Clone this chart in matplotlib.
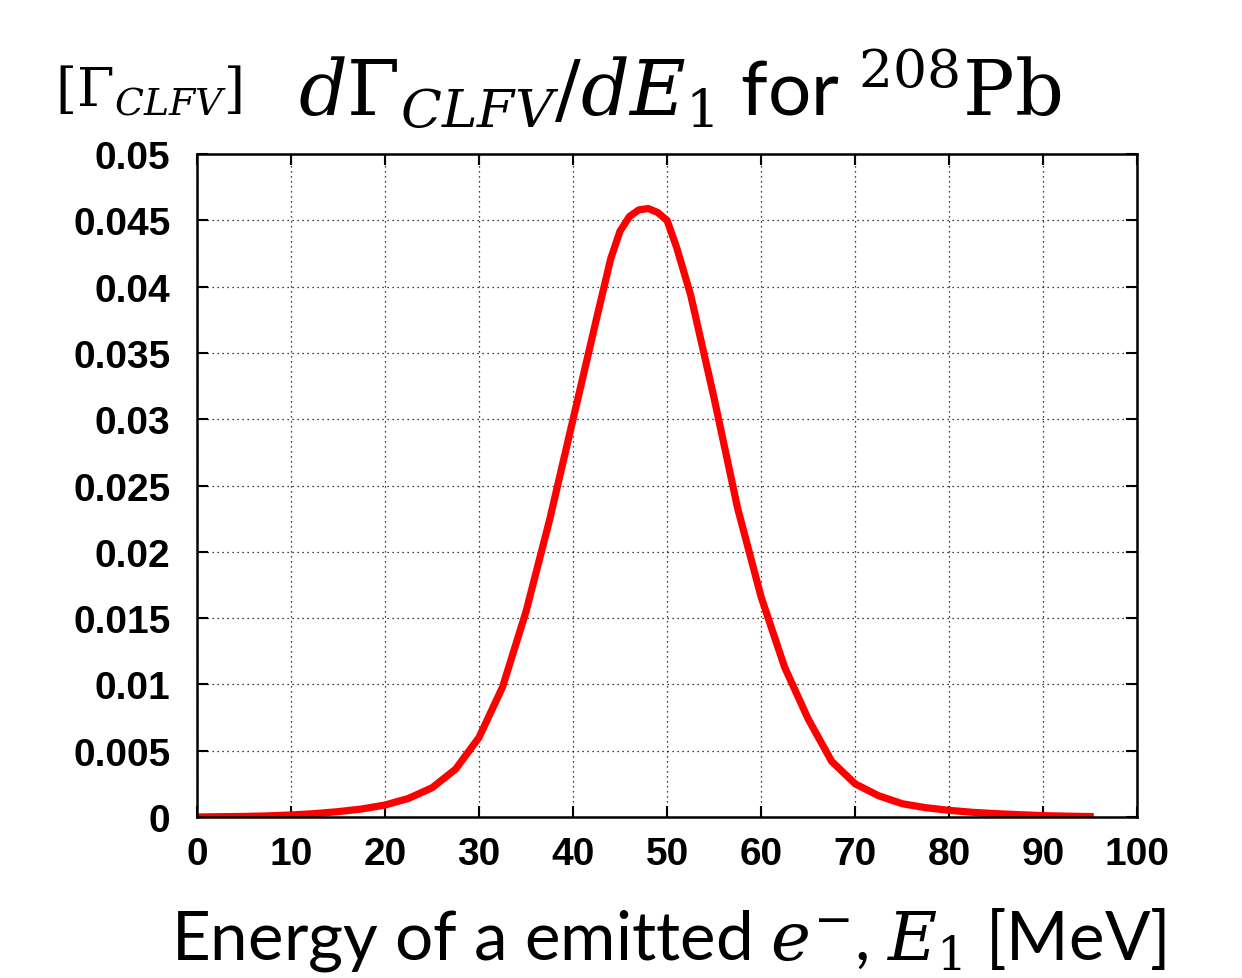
import numpy as np
import matplotlib
matplotlib.use('Agg')
import matplotlib.pyplot as plt

plt.rcParams['mathtext.fontset'] = 'dejavuserif'

# spectrum (MeV, rate)
energy = [0, 2.5, 5, 7.5, 10, 12.5, 15, 17.5, 20, 22.5, 25, 27.5, 30, 32.5, 35,
          37.5, 40, 42.5, 44, 45, 46, 47, 48, 49, 50, 51, 52.5, 55, 57.5, 60,
          62.5, 65, 67.5, 70, 72.5, 75, 77.5, 80, 82.5, 85, 87.5, 90, 92.5, 95]
rate = [0.0, 0.00002, 0.00004, 0.00008, 0.00015, 0.00025, 0.0004, 0.0006, 0.0009,
        0.0014, 0.0022, 0.0036, 0.0060, 0.0098, 0.0155, 0.0224, 0.0300, 0.0376,
        0.0421, 0.0442, 0.0453, 0.0458, 0.0459, 0.0456, 0.0450, 0.0430, 0.0394,
        0.0316, 0.0233, 0.0166, 0.0113, 0.0074, 0.0042, 0.0025, 0.0016, 0.0010,
        0.0007, 0.0005, 0.00035, 0.00025, 0.00017, 0.0001, 0.00006, 0.00003]

xticks = [0, 10, 20, 30, 40, 50, 60, 70, 80, 90, 100]
yticks = [0, 0.005, 0.01, 0.015, 0.02, 0.025, 0.03, 0.035, 0.04, 0.045, 0.05]
ytick_labels = ['0', '0.005', '0.01', '0.015', '0.02', '0.025', '0.03',
                '0.035', '0.04', '0.045', '0.05']

fig = plt.figure(figsize=(12.42, 9.79), dpi=100)
ax = fig.add_axes([0.1586, 0.1645, 0.757, 0.677])

ax.plot(energy, rate, color='#ff0000', lw=5.2, solid_joinstyle='round')

ax.set_xlim(0, 100)
ax.set_ylim(0, 0.05)
ax.set_xticks(xticks)
ax.set_xticklabels([str(t) for t in xticks])
ax.set_yticks(yticks)
ax.set_yticklabels(ytick_labels)
ax.tick_params(direction='in', length=8, width=1.5, top=True, right=True)
ax.tick_params(axis='y', pad=19)
ax.tick_params(axis='x', pad=14)
for lab in ax.get_xticklabels() + ax.get_yticklabels():
    lab.set_fontfamily('Liberation Sans')
    lab.set_fontweight('bold')
    lab.set_fontsize(28)
ax.grid(True, color='black', linestyle=(0, (1, 3)), lw=0.9)
for s in ax.spines.values():
    s.set_linewidth(1.8)

fig.text(0.044, 0.89, r'$[\Gamma_{CLFV}]$', fontsize=39)
fig.text(0.24, 0.88, r'$d\Gamma_{CLFV}/dE_1$ for $^{208}\mathrm{Pb}$',
         fontsize=55, family='Lato')
fig.text(0.538, 0.02, r'Energy of a emitted $e^{-}$, $E_1$ [MeV]',
         fontsize=48.5, family='Lato', ha='center')

plt.savefig('out.png', dpi=100)
